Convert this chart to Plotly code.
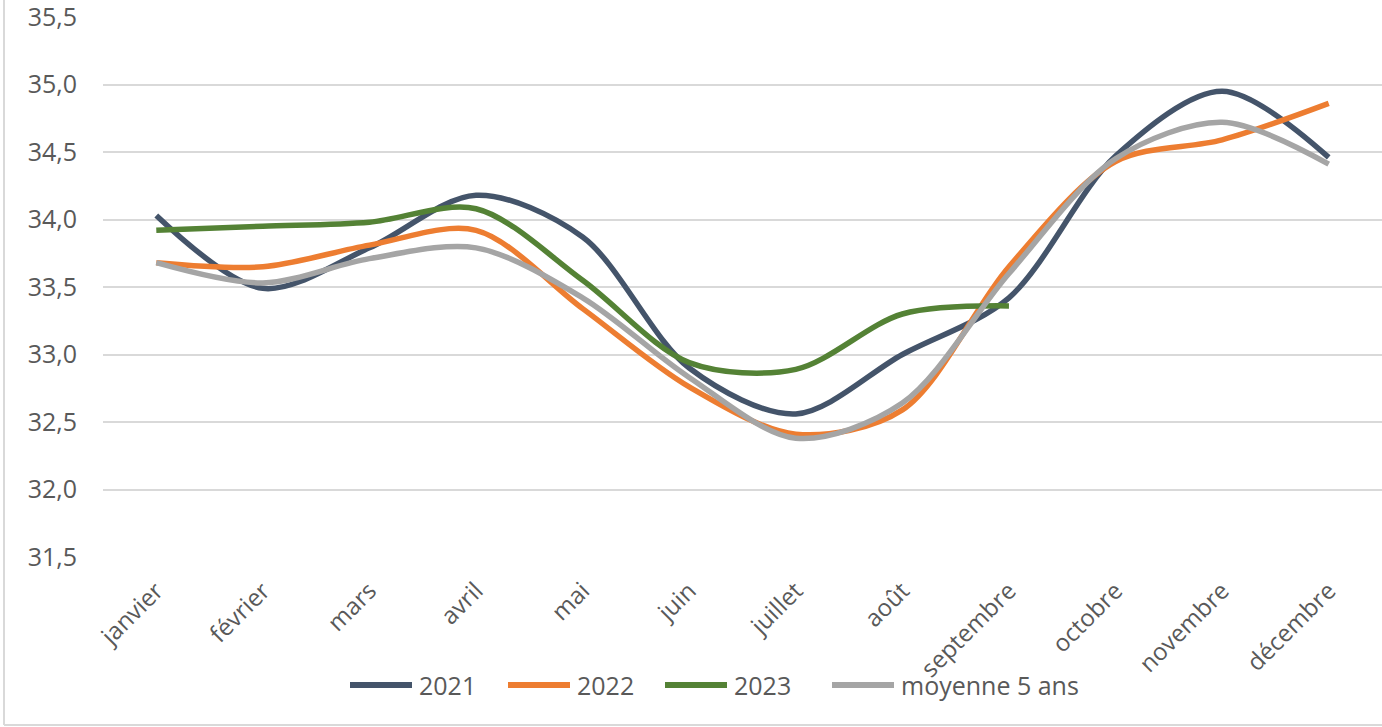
import plotly.graph_objects as go

months = ["janvier", "février", "mars", "avril", "mai", "juin", "juillet",
          "août", "septembre", "octobre", "novembre", "décembre"]
s2021 = [34.03, 33.49, 33.79, 34.18, 33.87, 32.90, 32.56, 33.00, 33.42, 34.47, 34.95, 34.46]
s2022 = [33.68, 33.65, 33.81, 33.92, 33.34, 32.76, 32.41, 32.59, 33.65, 34.43, 34.59, 34.86]
s2023 = [33.92, 33.95, 33.98, 34.08, 33.55, 32.94, 32.89, 33.30, 33.36]
smoy = [33.68, 33.53, 33.71, 33.79, 33.42, 32.83, 32.38, 32.64, 33.60, 34.45, 34.72, 34.41]
yticks = [31.5, 32.0, 32.5, 33.0, 33.5, 34.0, 34.5, 35.0, 35.5]

series = [("2021", s2021, "#44546A"), ("2022", s2022, "#ED7D31"),
          ("2023", s2023, "#548235"), ("moyenne 5 ans", smoy, "#A5A5A5")]

fig = go.Figure()
for name, vals, col in series:
    fig.add_trace(go.Scatter(x=months[:len(vals)], y=vals, name=name, mode="lines",
                             showlegend=False,
                             line=dict(color=col, width=5.5, shape="spline", smoothing=0.9)))

font_family = "Open Sans, sans-serif"
W, H = 1382, 727
L, R, T, B = 103, 0, 17, 170
pw, ph = W - L - R, H - T - B


def px_x(x):
    return (x - L) / pw


def px_y(y):
    return (H - B - y) / ph


fig.update_layout(
    width=W, height=H,
    margin=dict(l=L, r=R, t=T, b=B, autoexpand=False),
    paper_bgcolor="white", plot_bgcolor="white",
    separators=", ",
    font=dict(family=font_family, color="#595959", size=22),
    showlegend=False,
    xaxis=dict(type="category", categoryorder="array", categoryarray=months,
               range=[-0.5, 11.5], showgrid=False, showline=False, zeroline=False,
               automargin=False, tickangle=-45, tickfont=dict(size=24, color="#595959"),
               ticks="", ticklabelstandoff=14, ticklabeloverflow="allow"),
    yaxis=dict(range=[31.5, 35.5], tickvals=yticks, tickformat=".1f", automargin=False,
               showgrid=True, gridcolor="#D9D9D9", gridwidth=2, zeroline=False,
               showline=False, tickfont=dict(size=25, color="#595959"), ticks="",
               ticklabelstandoff=25, ticklabeloverflow="allow"),
)

# custom legend (long line keys as in the original)
leg_line_x = [350, 508, 665, 832]
leg_y = 685
for (name, vals, col), x0 in zip(series, leg_line_x):
    fig.add_shape(type="line", xref="paper", yref="paper",
                  x0=px_x(x0), x1=px_x(x0 + 62), y0=px_y(leg_y), y1=px_y(leg_y),
                  line=dict(color=col, width=6))
    fig.add_annotation(xref="paper", yref="paper", x=px_x(x0 + 67), y=px_y(leg_y),
                       xanchor="left", yanchor="middle", text=name, showarrow=False,
                       font=dict(size=25, color="#595959", family=font_family))

# chart-area border (left and bottom)
fig.add_shape(type="line", xref="paper", yref="paper",
              x0=px_x(4), x1=px_x(4), y0=px_y(0), y1=px_y(725),
              line=dict(color="#D9D9D9", width=2))
fig.add_shape(type="line", xref="paper", yref="paper",
              x0=px_x(4), x1=1.0, y0=px_y(725), y1=px_y(725),
              line=dict(color="#D9D9D9", width=2))

fig.write_html("out.html", config={"displayModeBar": False},
               post_script="document.body.style.margin='0';")
